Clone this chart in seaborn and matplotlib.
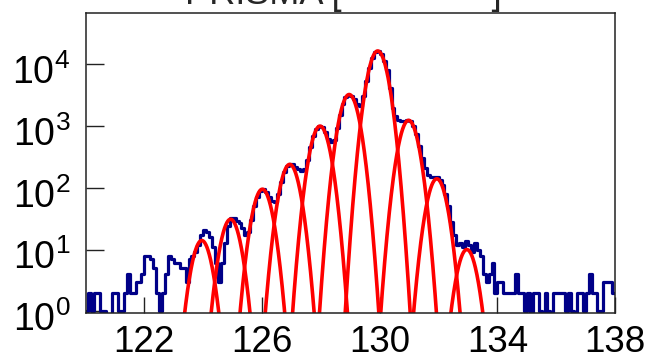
import numpy as np
import pandas as pd
import matplotlib
matplotlib.use("Agg")
import matplotlib.pyplot as plt
import matplotlib.ticker as mticker
import matplotlib.transforms as mtrans
import seaborn as sns

# histogram: 0.1 wide bins from 120.0 to 138.0
bin_start = 120.0
bin_stop = 138.0
counts = [
    1, 2, 1, 2, 2, 1, 1, 0, 0, 2,
    2, 1, 1, 2, 4, 2, 2, 3, 3, 4,
    8, 8, 7, 5, 2, 1, 2, 4, 8, 7,
    6, 6, 5, 5, 3, 7, 8, 9, 12, 17,
    21, 19, 16, 11, 6, 3, 6, 13, 24, 33,
    32, 29, 27, 22, 17, 19, 30, 50, 70, 90,
    97, 86, 72, 62, 58, 80, 125, 180, 225, 245,
    240, 218, 205, 190, 200, 280, 450, 680, 890, 1000,
    950, 790, 610, 560, 590, 920, 1530, 2290, 2950, 3250,
    3100, 2700, 2250, 2100, 3100, 5400, 8800, 12700, 15700, 16500,
    14700, 11200, 8000, 4200, 2000, 1450, 1250, 1200, 1220, 1240,
    1200, 1000, 740, 480, 300, 210, 160, 150, 148, 150,
    135, 110, 80, 50, 28, 17, 12, 13, 11, 14,
    12, 9, 13, 10, 8, 4, 3, 4, 6, 2,
    3, 3, 2, 2, 2, 2, 4, 2, 2, 1,
    2, 0, 2, 2, 1, 0, 2, 1, 0, 2,
    2, 2, 2, 1, 2, 1, 0, 2, 2, 1,
    2, 4, 2, 2, 1, 1, 3, 3, 3, 2,
]

# gaussian fits
peak_means = [123.95, 124.93, 126.01, 126.94, 127.97, 128.96, 129.93, 130.98, 131.94, 132.96]
peak_heights = [14, 31, 95, 240, 1000, 3250, 16500, 1240, 140, 10]
peak_sigma = 0.25

x_ticks = [122, 126, 130, 134, 138]
y_ticks = [1, 10, 100, 1000, 10000]
title = "PRISMA [               ]"

sns.set_theme(style="ticks")
plt.rcParams["font.family"] = ["Liberation Sans", "DejaVu Sans"]
plt.rcParams["mathtext.default"] = "regular"

fig = plt.figure(figsize=(6.53, 3.61), dpi=100)
ax = fig.add_axes([0.131, 0.134, 0.811, 0.830])

nbins = len(counts)
width = (bin_stop - bin_start) / nbins
df = pd.DataFrame({"mass": bin_start + width * (np.arange(nbins) + 0.5), "counts": counts})
sns.histplot(data=df, x="mass", weights="counts", bins=nbins, binrange=(bin_start, bin_stop),
             element="step", fill=False, color="#000088", linewidth=2.3, ax=ax)

for mu, amp in zip(peak_means, peak_heights):
    xs = np.linspace(mu - 1.3, mu + 1.3, 300)
    ys = amp * np.exp(-0.5 * ((xs - mu) / peak_sigma) ** 2)
    sns.lineplot(x=xs, y=ys, color="#ff0000", linewidth=2.6, estimator=None, ax=ax)

ax.set_yscale("log")
ax.set_xlim(bin_start, bin_stop)
ax.set_ylim(0.95, 6.8e4)
ax.set_xlabel("")
ax.set_ylabel("")

ax.set_xticks(x_ticks)
ax.set_xticklabels([str(t) for t in x_ticks])
ax.yaxis.set_major_locator(mticker.FixedLocator(y_ticks))
ax.yaxis.set_major_formatter(mticker.FuncFormatter(
    lambda v, p: r"$10^{%d}$" % int(round(np.log10(v)))))
ax.yaxis.set_minor_locator(mticker.LogLocator(base=10, subs=(2, 5, 8)))
ax.yaxis.set_minor_formatter(mticker.NullFormatter())

ax.tick_params(axis="both", which="both", direction="in", top=False, right=False,
               colors="#222222", labelcolor="black")
ax.tick_params(axis="x", which="major", length=11.5, width=1.0, labelsize=26.5, pad=9)
ax.tick_params(axis="y", which="major", length=13, width=1.0, labelsize=27, pad=11)
ax.tick_params(axis="y", which="minor", length=6.5, width=1.0)
for s in ax.spines.values():
    s.set_visible(True)
    s.set_color("#222222")
    s.set_linewidth(1.1)

# nudge the y labels down a little, as in the reference
shift = mtrans.ScaledTranslation(0, -0.05, fig.dpi_scale_trans)
for lab in ax.get_yticklabels():
    lab.set_transform(lab.get_transform() + shift)

fig.text(0.2833, 0.989, title, ha="left", va="baseline", fontsize=26)

fig.savefig("out.png", dpi=100)
